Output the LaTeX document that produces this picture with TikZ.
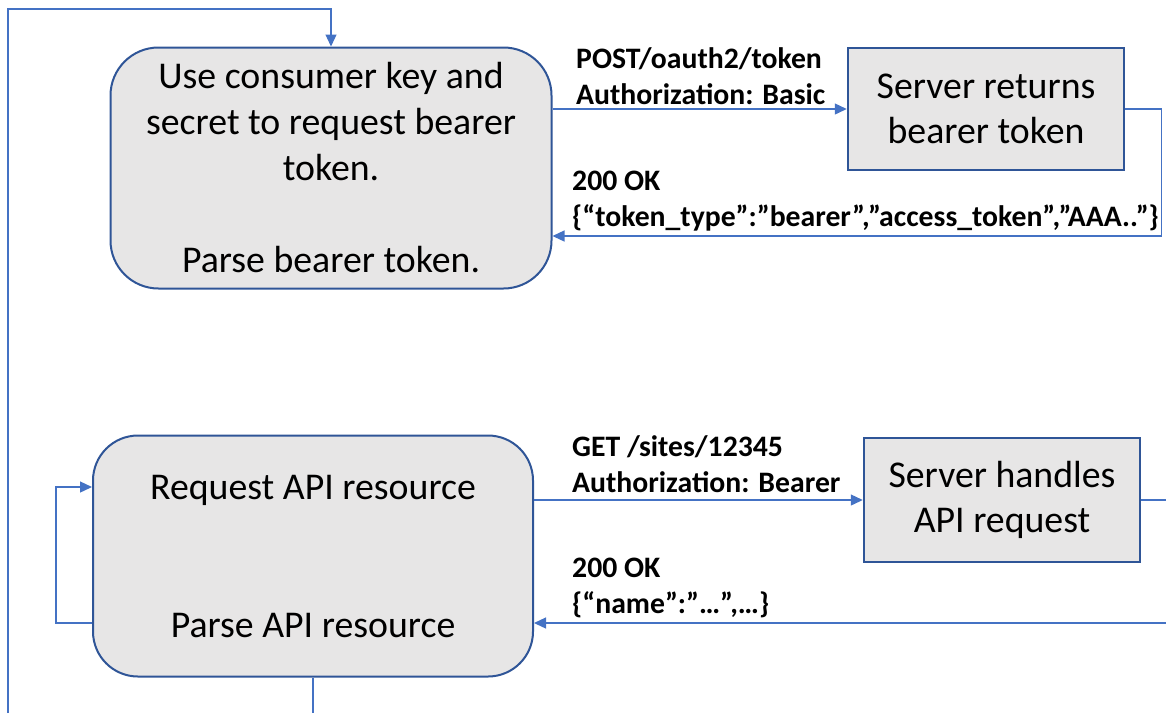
\documentclass[tikz,border=0pt]{standalone}
\usepackage{fontspec}
\setmainfont{Carlito}
\usetikzlibrary{arrows}
\usetikzlibrary{arrows.meta}

\definecolor{boxgray}{HTML}{E7E6E6}
\definecolor{boxblue}{HTML}{2F5597}
\definecolor{linkblue}{HTML}{4472C4}

\begin{document}
\begin{tikzpicture}[x=1pt,y=-1pt,
  client/.style={draw=boxblue,line width=2pt,fill=boxgray,rounded corners=48pt,align=center,inner sep=0pt,font=\fontsize{37.8}{46}\selectfont},
  server/.style={draw=boxblue,line width=2.5pt,fill=boxgray,align=center,inner sep=0pt,font=\fontsize{37.8}{45}\selectfont},
  msg/.style={align=left,inner sep=0pt,anchor=west,font=\fontsize{29.7}{36}\selectfont\bfseries},
  link/.style={draw=linkblue,line width=1.3pt},
  tip/.style={-{Triangle[length=12pt,width=11pt]}}]
\useasboundingbox (0,0) rectangle (1166,713);

\node[client,minimum width=441pt,minimum height=241pt] (token) at (331,168) {Use consumer key and\\secret to request bearer\\token.\\~\\Parse bearer token.};
\node[server,minimum width=276pt,minimum height=122pt] (auth) at (986,109) {Server returns\\bearer token};
\node[client,minimum width=440pt,minimum height=241pt,rounded corners=45pt] (api) at (313,556) {Request API resource\\~\\~\\Parse API resource};
\node[server,minimum width=276pt,minimum height=124pt] (handler) at (1002,500) {Server handles\\API request};

\node[msg] (post) at (576,76) {POST/oauth2/token\\Authorization: Basic};
\node[msg] (tokenok) at (572,201) {200 OK\\\{“token\_type”:”bearer”,”access\_token”,”AAA..”\}};
\node[msg] (get) at (572,464) {GET /sites/12345\\Authorization: Bearer};
\node[msg] (apiok) at (572,588) {200 OK\\\{“name”:”…”,…\}};

\coordinate (edgeout) at (1166,500);
\coordinate (edgein) at (1166,623);
\coordinate (bottomend) at (8,713);

\draw[link,tip] (token.east |- auth.west) -- (auth.west);
\draw[link,tip] (auth.east) -- ++(36,0) |- (token.east |- 0,236);
\draw[link,tip] (api.east |- handler.west) -- (handler.west);
\draw[link] (handler.east) -- (edgeout);
\draw[link,tip] (edgein) -- (api.east |- edgein);
\draw[link,tip] (api.west |- 0,623) -- ++(-36,0) |- (api.west |- 0,487);
\draw[link] (api.south) -- (api.south |- bottomend);
\draw[link,tip] (bottomend) |- (token.north |- 0,9) -- (token.north);
\end{tikzpicture}
\end{document}
